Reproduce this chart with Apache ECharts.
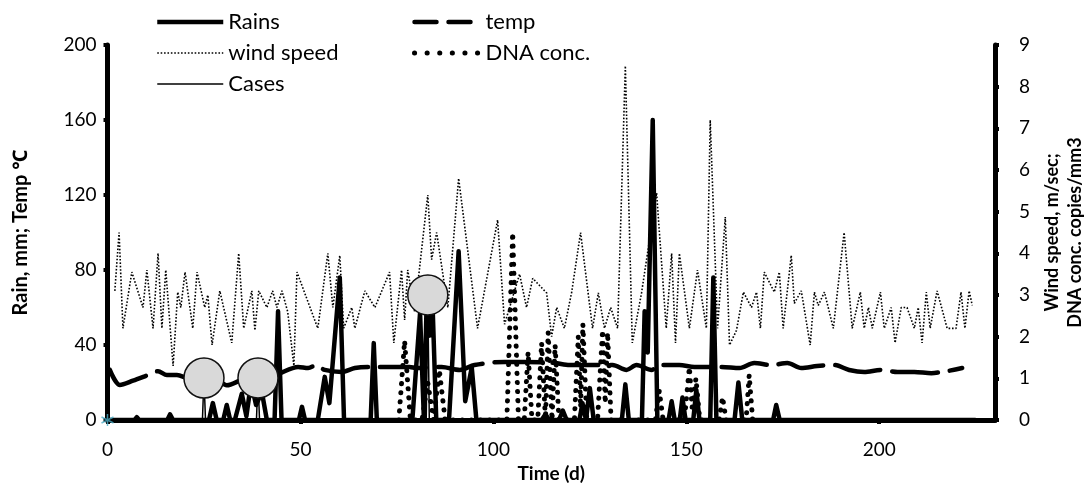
<!DOCTYPE html>
<html>
<head>
<meta charset="utf-8">
<script src="https://cdn.jsdelivr.net/npm/echarts@6/dist/echarts.min.js"></script>
<style>
  html, body { margin: 0; padding: 0; background: #fff; }
  #chart { width: 1087px; height: 490px; }
</style>
</head>
<body>
<div id="chart"></div>
<script>
// [day, mm] rain
var rains = [[0,0],[7,0],[7.6,1.5],[8.2,0],[15.5,0],[16.2,3],[17,0],[26.3,0],[27.3,9],[28.3,0],[30,0],[30.9,8],[31.8,0],
    [33,0],[34.8,14],[36,2],[37.2,20],[38.5,8],[40,15],[41.3,0],[43.3,0],[44.2,58],[45.1,0],[49.6,0],[50.4,7],[51.2,0],
    [54.5,0],[56.3,23],[57.5,9],[60.2,76],[61.3,0],[68.2,0],[69,41],[69.8,0],[79,0],[81,57],[82,0],[82.7,62],[83.5,45],
    [84.2,64],[85.2,0],[88.5,0],[91,90],[92.7,10],[94.4,28],[95.6,0],[112.5,0],[113.5,3],[114.5,0],[117,0],[118,5],[119,0],
    [122.3,0],[123.1,9],[124,0],[125,17],[126,0],[133.3,0],[134.2,19],[135.1,0],[138.5,0],[139.2,58],[140,36],[141.3,160],
    [142.5,0],[145.4,0],[146.2,10],[147,0],[148.3,0],[149,12],[149.8,0],[151.8,0],[152.6,16],[153.4,0],[156.2,0],[157,76],
    [157.8,0],[162.5,0],[163.5,20],[164.5,0],[172.5,0],[173.3,8],[174.2,0],[225,0]];

// [day, deg C]
var temp = [[0.6,26.7],[3.2,18.7],[6.6,21],[10.5,24],[13.1,26],[15.4,24],[18,24],[21.4,22],[27.8,22],[30.9,18.5],
    [35.6,22],[43.4,24],[49.4,28.3],[52,27.7],[54.2,29.3],[56.3,26.7],[60.7,25.6],[64.1,27.7],[68,28.3],[72.6,28.3],
    [78.3,28.3],[80.1,27.7],[86.6,28.3],[91.3,26.7],[95.1,29.3],[102.9,31],[108.1,31],[115.9,30.4],[119.7,29.3],
    [124.9,29.3],[130.9,29.3],[134.5,26.7],[137.1,29.3],[141,26.7],[143,29.3],[148.2,29.3],[152.1,28.3],[159.1,28.3],
    [163.8,27.7],[167.6,30.4],[172,29.3],[176.2,30.4],[179.8,27.7],[183.9,28.8],[188.4,29.3],[192.2,26.7],[196.1,25.6],
    [200.5,26.7],[204.7,25.6],[209.1,25.6],[213.5,25],[217.4,26],[221.5,27.7]];

// [day, m/sec]
var windSpeed = [[1.9,3.1],[3,4.5],[4,2.2],[6.3,3.55],[9.2,2.7],[10.2,3.6],[11.8,2.2],[13.1,4],[14.1,2.2],[15.1,3.6],
    [17,1.3],[18.2,3.07],[19,2.7],[20.1,3.55],[22.1,2.2],[23.2,3.55],[25.2,2.7],[26,3],[27.1,1.8],[29.1,3.1],[32.2,1.85],
    [34,4],[35.3,2.2],[37.4,3.1],[38.2,2.15],[39.2,3.1],[41.3,2.7],[42.8,3.1],[43.9,2.7],[45.2,3.1],[46.7,2.6],[48.3,1.3],
    [49.1,3.55],[54.5,2.2],[57.1,4],[58.4,2.7],[60.2,3.95],[61.2,2.2],[63.3,2.7],[64.1,2.2],[66.7,3.1],[69.3,2.7],
    [73.1,3.55],[74.2,1.85],[76.2,3.6],[77,2.4],[77.8,3.6],[79.6,2.6],[83,5.4],[84,3.85],[85.3,4.5],[88.2,2.7],[91,5.8],
    [95.9,2.2],[101.1,4.8],[102.9,2.3],[106.8,3.5],[108.6,2.7],[110.2,3.4],[113.8,3.05],[115.1,2],[116.4,2.7],[118.4,2.2],
    [120.3,3.07],[122.6,4.5],[125.7,2.2],[127.2,3.05],[128.8,2.2],[130.4,2.7],[132.2,2.2],[134.2,8.5],[136,1.85],
    [138.4,3.05],[142.3,5.45],[144.8,2.2],[146.2,4],[147.2,1.85],[148.2,4],[150.8,2.2],[152.9,3.6],[155.2,2.2],[156.2,7.2],
    [158.1,2.2],[160.1,4.87],[161.2,1.8],[163,2.15],[164.8,3.07],[166.9,2.7],[168.2,3.07],[169.2,2.2],[170.2,3.55],
    [172.8,3.07],[174.1,3.55],[175.1,2.2],[177.2,3.95],[178,2.8],[179.8,3.1],[182.1,1.8],[183.2,3.07],[184.2,2.75],
    [185.8,3.07],[188.1,2.2],[190.9,4.5],[193,2.2],[195.1,3.07],[196.1,2.2],[197.2,2.7],[198.2,2.2],[200.3,3.07],[201.3,2.2],
    [203.1,2.7],[204.1,1.85],[205.7,2.7],[207.2,2.7],[209.1,2.2],[210.1,2.7],[211.1,1.85],[212.2,3.07],[213.2,2.2],
    [215,3.1],[217.6,2.2],[219.9,2.2],[221.2,3.07],[222.2,2.2],[223.3,3.1],[224.1,2.75]];

// [day, copies/mm3]
var dnaConc = [[75.5,0],[77,1.9],[78.5,0],[81.5,0],[83,0.9],[84.5,0],[86,1.2],[87.5,0],[103.5,0],[105,4.5],[106.5,0],
    [108,0],[109,1.63],[110,0],[111.5,0],[112.5,1.85],[113.5,0],[114.2,2.1],[115.2,0],[116,1.8],[117,0],[121,0],[122,2],
    [122.6,0.3],[123.2,2.3],[124.2,0],[127,0],[128.3,2.16],[129,0.4],[129.6,2.1],[130.5,0],[142,0],[143,0.7],[144,0],
    [149.5,0],[150.8,1.27],[151.5,0.3],[152.5,1],[153.5,0],[158.5,0],[159.4,0.55],[160.3,0],[165.5,0],[166.3,1.08],[167.2,0]];

// cases
var cases = [[0,0],[24.6,0],[25,22.4],[25.4,0],[38.6,0],[39,22.4],[39.4,0],[82.6,0],[83,66.7],[83.4,0],[225,0]];
var casePoints = [[25,22.4],[39,22.4],[83,66.7]];
var origin = [[0,0]];

var xTicks = { min: 0, max: 230, interval: 50 };
var leftTicks = { min: 0, max: 200, interval: 40 };
var rightTicks = { min: 0, max: 9, interval: 1 };

var FONT = 'Lato, "Noto Sans", sans-serif';
var CLEAR = 'rgba(0,0,0,0)';

var myChart = echarts.init(document.getElementById('chart'));

function axisBase() {
    return {
        axisLine: { show: true, onZero: false, lineStyle: { color: '#000', width: 5 } },
        axisTick: { show: true, inside: false, length: 4, lineStyle: { color: '#000', width: 4 } },
        axisLabel: { color: '#000', fontSize: 19, fontFamily: FONT },
        splitLine: { show: false },
        nameTextStyle: { color: '#000', fontSize: 18, fontWeight: 'bold', fontFamily: FONT }
    };
}

var xAxis = axisBase();
xAxis.type = 'value';
xAxis.min = xTicks.min;
xAxis.max = xTicks.max;
xAxis.interval = xTicks.interval;
xAxis.name = 'Time (d)';
xAxis.nameLocation = 'middle';
xAxis.nameGap = 42;
xAxis.nameTextStyle.fontSize = 19;
xAxis.axisLabel.margin = 20;
xAxis.axisLabel.showMaxLabel = false;

var yLeft = axisBase();
yLeft.type = 'value';
yLeft.position = 'left';
yLeft.min = leftTicks.min;
yLeft.max = leftTicks.max;
yLeft.interval = leftTicks.interval;
yLeft.name = 'Rain, mm; Temp \u2103';
yLeft.nameLocation = 'middle';
yLeft.nameRotate = 90;
yLeft.nameGap = 77;
yLeft.nameTextStyle.fontSize = 20;
yLeft.axisLabel.margin = 11;

var yRight = axisBase();
yRight.type = 'value';
yRight.position = 'right';
yRight.min = rightTicks.min;
yRight.max = rightTicks.max;
yRight.interval = rightTicks.interval;
yRight.name = 'Wind speed, m/sec;\nDNA conc. copies/mm3';
yRight.nameLocation = 'middle';
yRight.nameRotate = 90;
yRight.nameGap = 45;
yRight.nameTextStyle.lineHeight = 23;
yRight.axisLabel.margin = 24;

var legendText = { color: '#000', fontSize: 22, fontFamily: FONT, lineHeight: 24 };
var legendCommon = {
    orient: 'vertical', top: 5, itemWidth: 66, itemHeight: 14, itemGap: 7,
    textStyle: legendText,
    itemStyle: { color: CLEAR, borderColor: CLEAR, borderWidth: 0 }
};

var option = {
    animation: false,
    backgroundColor: '#fff',
    grid: { left: 107.5, right: 92, top: 45, bottom: 70, containLabel: false, outerBoundsMode: 'none' },
    legend: [
        echarts.util.merge({
            left: 150,
            data: [
                { name: 'Rains', lineStyle: { color: '#000', width: 4.5, type: 'solid' } },
                { name: 'wind speed', lineStyle: { color: '#000', width: 1.6, type: [1.6, 1.8] } },
                { name: 'Cases', lineStyle: { color: '#000', width: 1.5, type: 'solid' } }
            ]
        }, legendCommon),
        echarts.util.merge({
            left: 407,
            data: [
                { name: 'temp', lineStyle: { color: '#000', width: 4.5, type: [22, 12] } },
                { name: 'DNA conc.', lineStyle: { color: '#000', width: 5, type: [0.1, 12.5], cap: 'round' } }
            ]
        }, legendCommon)
    ],
    xAxis: xAxis,
    yAxis: [yLeft, yRight],
    series: [
        {
            name: 'wind speed', type: 'line', yAxisIndex: 1, symbol: 'none', data: windSpeed, z: 2,
            itemStyle: { color: CLEAR },
            lineStyle: { color: '#000', width: 1.6, type: [1.6, 1.8] }
        },
        {
            name: 'DNA conc.', type: 'line', yAxisIndex: 1, symbol: 'none', data: dnaConc, z: 3,
            itemStyle: { color: CLEAR },
            lineStyle: { color: '#000', width: 5, type: [0.1, 9], cap: 'round' }
        },
        {
            name: 'temp', type: 'line', yAxisIndex: 0, symbol: 'none', data: temp, z: 4, smooth: 0.3,
            itemStyle: { color: CLEAR },
            lineStyle: { color: '#000', width: 4.5, type: [46, 12], cap: 'round' }
        },
        {
            name: 'Rains', type: 'line', yAxisIndex: 0, symbol: 'none', data: rains, z: 5,
            itemStyle: { color: CLEAR },
            lineStyle: { color: '#000', width: 4.5, join: 'round' }
        },
        {
            name: 'Cases', type: 'line', yAxisIndex: 0, symbol: 'none', data: cases, z: 6,
            itemStyle: { color: CLEAR },
            lineStyle: { color: '#000', width: 1.5 }
        },
        {
            name: 'Cases marks', type: 'scatter', yAxisIndex: 0, data: casePoints, z: 7,
            symbol: 'circle', symbolSize: 40,
            itemStyle: { color: '#d9d9d9', borderColor: '#111', borderWidth: 1.5, opacity: 1 }
        },
        {
            name: 'origin', type: 'scatter', yAxisIndex: 0, data: origin, z: 8,
            symbol: 'path://M5,0 L5,10 M0,2.5 L10,7.5 M0,7.5 L10,2.5', symbolSize: 12,
            itemStyle: { color: CLEAR, borderColor: '#4bacc6', borderWidth: 1.5 }
        }
    ]
};

myChart.setOption(option);
</script>
</body>
</html>
